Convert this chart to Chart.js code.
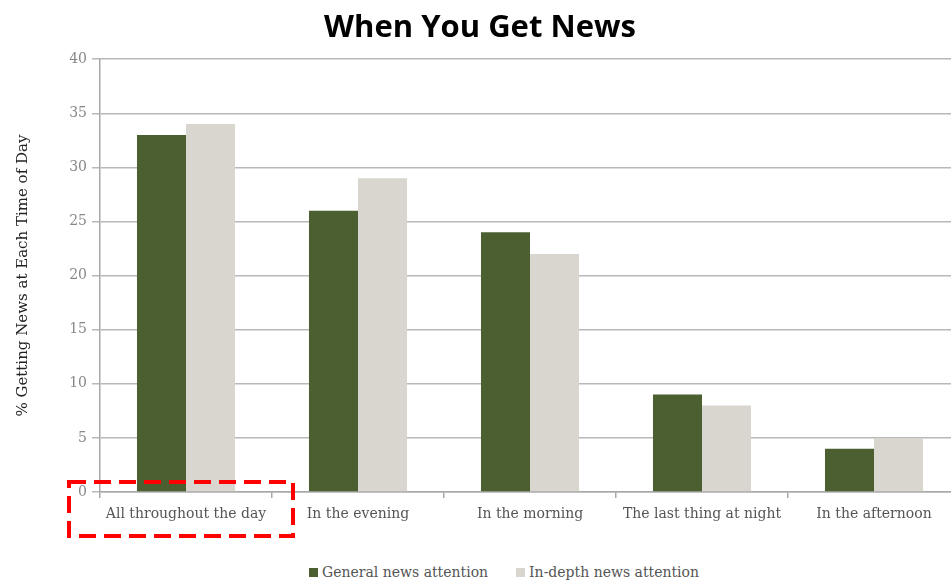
<!DOCTYPE html>
<html>
<head>
<meta charset="utf-8">
<title>When You Get News</title>
<script src="https://cdn.jsdelivr.net/npm/chart.js@4.4.1/dist/chart.umd.min.js"></script>
<style>
  html, body { margin: 0; padding: 0; background: #fff; overflow: hidden; }
  #wrap { position: relative; width: 970px; height: 560px; }
  #legend {
    position: absolute; top: 564px; left: 0; width: 1008px;
    display: flex; justify-content: center; align-items: center;
    font-family: "DejaVu Serif", serif; font-size: 14px; color: #555;
  }
  #legend .item { display: flex; align-items: center; margin: 0 14px; }
  #legend .box { width: 9px; height: 9px; margin-right: 4px; }
</style>
</head>
<body>
<div id="wrap"><canvas id="newsChart" width="970" height="560"></canvas></div>
<div id="legend"></div>
<script>
// --- data ---
const categories = ['All throughout the day', 'In the evening', 'In the morning', 'The last thing at night', 'In the afternoon'];
const generalNews = [33, 26, 24, 9, 4];
const inDepthNews = [34, 29, 22, 8, 5];
const seriesNames = ['General news attention', 'In-depth news attention'];
const yMin = 0, yMax = 40, yStep = 5;

const GREEN = '#4b5f31';
const SAND = '#d9d6cf';
const labelFont = '"DejaVu Serif", serif';

// dashed red box around the first category label
const highlightBox = {
  id: 'highlightBox',
  afterDraw(chart) {
    const { ctx, chartArea, scales: { x } } = chart;
    const cx = x.getPixelForTick(0) - 5;
    ctx.save();
    ctx.strokeStyle = '#ff0000';
    ctx.lineWidth = 4;
    ctx.setLineDash([17, 8]);
    ctx.strokeRect(cx - 112, chartArea.bottom - 10, 224, 54);
    ctx.restore();
  }
};

const chart = new Chart(document.getElementById('newsChart'), {
  type: 'bar',
  data: {
    labels: categories,
    datasets: [{
      label: seriesNames[0],
      data: generalNews,
      backgroundColor: GREEN,
      categoryPercentage: 0.57,
      barPercentage: 1
    }, {
      label: seriesNames[1],
      data: inDepthNews,
      backgroundColor: SAND,
      categoryPercentage: 0.57,
      barPercentage: 1
    }]
  },
  options: {
    responsive: false,
    animation: false,
    devicePixelRatio: 1,
    layout: { padding: { left: 0, right: 10, top: 0, bottom: 0 } },
    plugins: {
      legend: { display: false },
      tooltip: { enabled: false },
      title: {
        display: true,
        text: 'When You Get News',
        color: '#000',
        font: { family: '"Open Sans", sans-serif', size: 31, weight: 'bold' },
        padding: { top: 10, bottom: 12 }
      }
    },
    scales: {
      x: {
        grid: { display: true, drawOnChartArea: false, tickLength: 6, color: '#a8a8a8', lineWidth: 1.5 },
        border: { display: true, color: '#a8a8a8', width: 1.5 },
        ticks: { color: '#555', padding: 8, font: { family: labelFont, size: 14 }, maxRotation: 0, autoSkip: false },
        afterFit(scale) { scale.height = 68; }
      },
      y: {
        min: yMin,
        max: yMax,
        ticks: { stepSize: yStep, color: '#888', padding: 5, font: { family: labelFont, size: 14 } },
        grid: { color: '#b8b8b8', lineWidth: 1.5, tickLength: 8 },
        border: { display: true, color: '#a8a8a8', width: 1.5 },
        title: {
          display: true,
          text: '% Getting News at Each Time of Day',
          color: '#222',
          font: { family: labelFont, size: 15 },
          padding: { top: 14, bottom: 0 }
        },
        afterFit(scale) { scale.width = 100; }
      }
    }
  },
  plugins: [highlightBox]
});

// legend built from the chart's own legend items
const legendEl = document.getElementById('legend');
chart.options.plugins.legend.labels.generateLabels(chart).forEach(item => {
  const el = document.createElement('span');
  el.className = 'item';
  el.innerHTML = '<span class="box" style="background:' + item.fillStyle + '"></span>' + item.text;
  legendEl.appendChild(el);
});
</script>
</body>
</html>
